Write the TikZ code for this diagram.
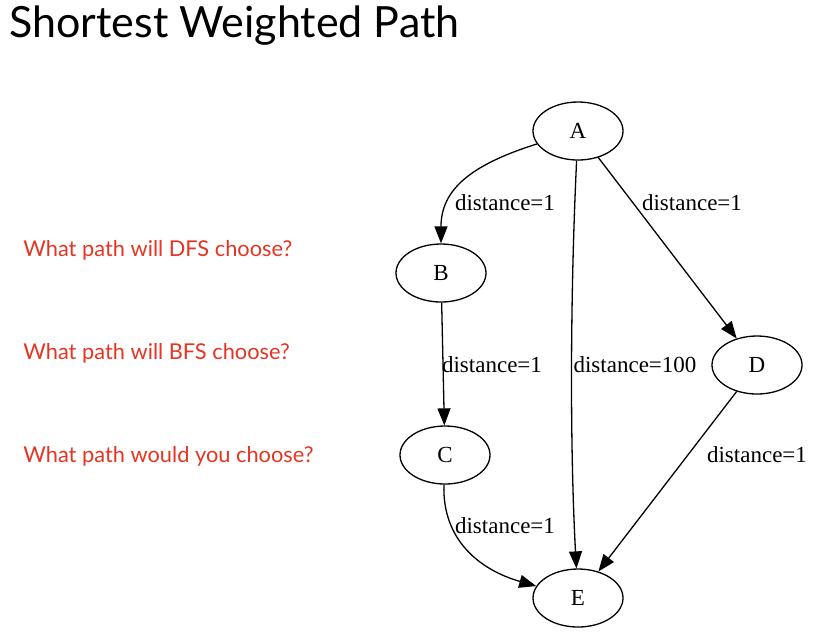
\documentclass[tikz,border=0pt]{standalone}
\usepackage{fontspec}
\setmainfont{Liberation Serif}
\newfontfamily\gillfont{Lato}
\usetikzlibrary{shapes.geometric,arrows.meta}
\definecolor{askred}{RGB}{230,52,35}

\begin{document}
\begin{tikzpicture}[x=0.5pt,y=-0.5pt,
main/.style = {draw, ellipse, line width=0.65pt, minimum width=45pt, minimum height=29pt, inner sep=0pt, font=\fontsize{11.5}{12}\selectfont},
edge/.style = {-{Triangle[length=8.5pt,width=6.5pt]}, line width=0.65pt},
lbl/.style = {inner sep=0pt, font=\fontsize{11.5}{12}\selectfont},
ask/.style = {anchor=base west, inner sep=0pt, text=askred, font=\gillfont\fontsize{10.9}{13}\selectfont}]
\useasboundingbox (0,0) rectangle (818,639);
\node[anchor=base west, inner sep=0pt, font=\gillfont\fontsize{21.5}{24}\selectfont] (title) at (9,37) {Shortest Weighted Path};
\node[ask] (q1) at (23,256) {What path will DFS choose?};
\node[ask] (q2) at (23,359) {What path will BFS choose?};
\node[ask] (q3) at (23,462) {What path would you choose?};
\node[main] (A) at (578,131) {A};
\node[main] (B) at (441,273) {B};
\node[main] (C) at (445,455) {C};
\node[main] (D) at (757,365) {D};
\node[main] (E) at (578,598) {E};
\draw[edge] (A) .. controls (470,165) and (441,190) .. (B);
\draw[edge] (A) .. controls (570,300) and (570,450) .. (E);
\draw[edge] (A) -- (D);
\draw[edge] (B) -- (C);
\draw[edge] (D) -- (E);
\draw[edge] (C) .. controls (442,540) and (480,570) .. (E);
\node[lbl] (ab) at (505,203) {distance=1};
\node[lbl] (ad) at (692,203) {distance=1};
\node[lbl] (bc) at (492,365) {distance=1};
\node[lbl] (ae) at (635,365) {distance=100};
\node[lbl] (de) at (757,455) {distance=1};
\node[lbl] (ce) at (505,526) {distance=1};
\end{tikzpicture}
\end{document}
